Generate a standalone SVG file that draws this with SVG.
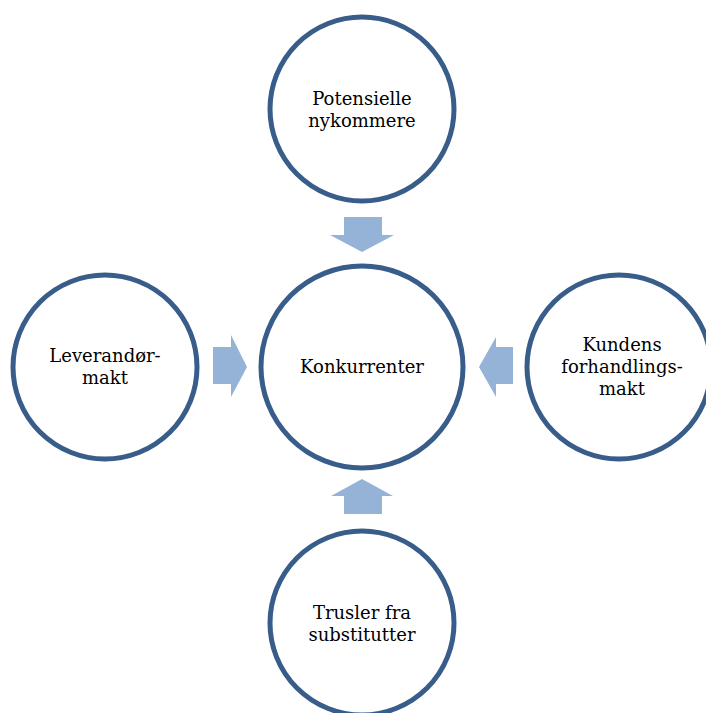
<svg xmlns="http://www.w3.org/2000/svg" width="706" height="713" viewBox="0 0 706 713">
<style>
.n{fill:#fff;stroke:#385D8A;stroke-width:5}
.t{font-family:"DejaVu Serif","Liberation Serif",serif;font-size:18px;fill:#000;text-anchor:middle}
.a{fill:#95B3D7}
</style>
<rect width="706" height="713" fill="#fff"/>
<g id="connectors">
<polygon class="a" points="344,217 382,217 382,235 394,235 362,252 330,235 344,235"/>
<polygon class="a" points="213,347 231,347 231,335 247,367 231,397 231,384 213,384"/>
<polygon class="a" points="513,347 496,347 496,337 479,367 496,397 496,384 513,384"/>
<polygon class="a" points="344,514 382,514 382,496 393,496 362,479 331,496 344,496"/>
</g>
<g id="top"><circle class="n" cx="362" cy="109" r="92"/><text class="t" x="362" y="105">Potensielle</text><text class="t" x="362" y="127">nykommere</text></g>
<g id="center"><circle class="n" cx="362" cy="367" r="101"/><text class="t" x="362" y="373">Konkurrenter</text></g>
<g id="left"><circle class="n" cx="105" cy="367" r="92"/><text class="t" x="105" y="362">Leverandør-</text><text class="t" x="105" y="384">makt</text></g>
<g id="right"><circle class="n" cx="619" cy="367" r="92"/><text class="t" x="622" y="351">Kundens</text><text class="t" x="622" y="373">forhandlings-</text><text class="t" x="622" y="395">makt</text></g>
<g id="bottom"><circle class="n" cx="362" cy="623" r="92"/><text class="t" x="362" y="619">Trusler fra</text><text class="t" x="362" y="641">substitutter</text></g>
</svg>
